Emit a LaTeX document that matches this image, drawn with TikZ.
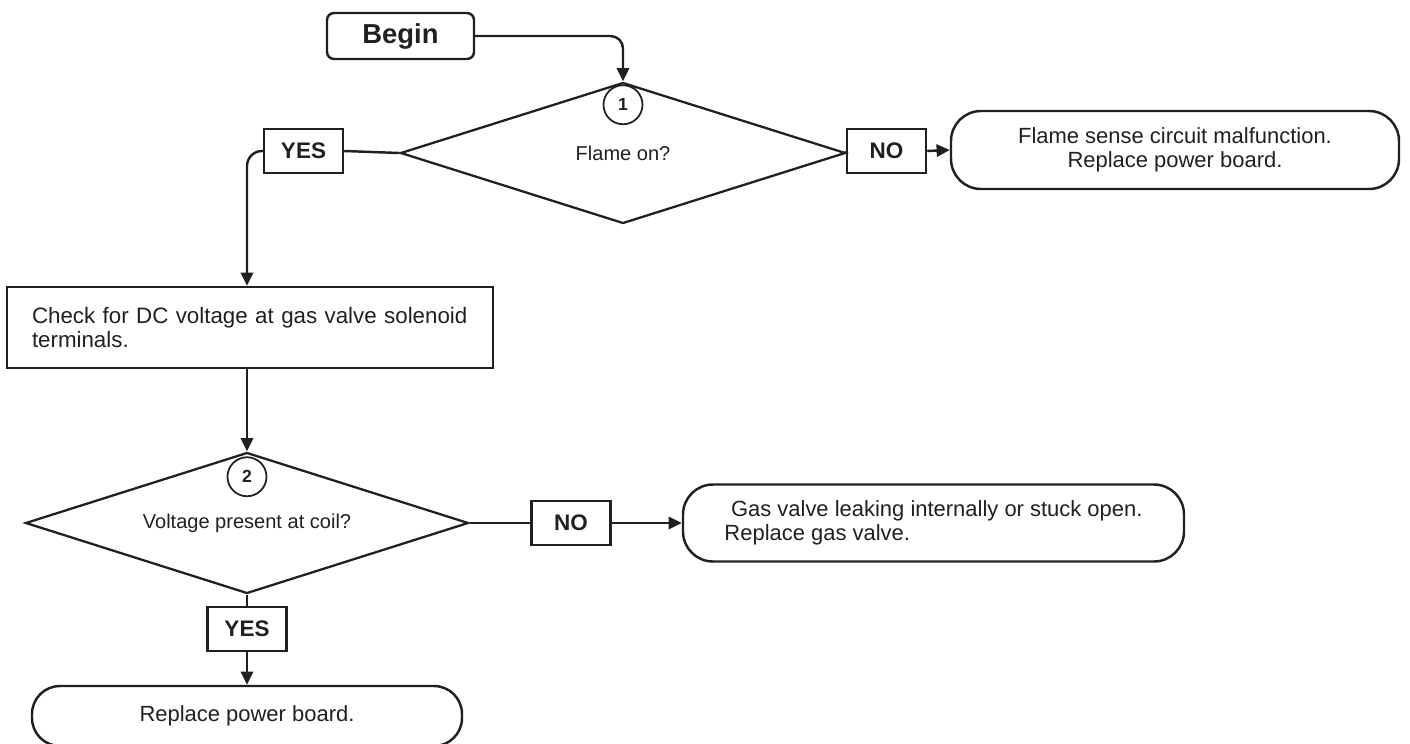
\documentclass[tikz,border=0pt]{standalone}
\usepackage{fontspec}
\setmainfont{Liberation Sans}
\usetikzlibrary{arrows.meta, positioning, shapes.geometric}
\definecolor{ink}{HTML}{231F20}
\tikzset{
  startbox/.style={rectangle, rounded corners=4pt, draw=ink, line width=1.4pt,
                   minimum width=2.94cm, minimum height=0.92cm, inner sep=0pt,
                   font=\fontsize{15.6}{18}\selectfont\bfseries, text=ink},
  tagbox/.style={rectangle, draw=ink, line width=1.4pt,
                 minimum width=1.58cm, minimum height=0.88cm, inner sep=0pt,
                 font=\fontsize{12.8}{15}\selectfont\bfseries, text=ink},
  qdiam/.style={diamond, draw=ink, line width=1.3pt, aspect=3,
                minimum width=8.9cm, minimum height=2.82cm, inner sep=0pt,
                font=\fontsize{11.4}{13}\selectfont, text=ink},
  numcirc/.style={circle, draw=ink, line width=1pt, minimum size=0.78cm, inner sep=0pt,
                  font=\fontsize{10}{12}\selectfont\bfseries, text=ink},
  endbox/.style={rectangle, rounded corners=#1, draw=ink, line width=1.4pt,
                 inner sep=0pt, font=\fontsize{12.5}{13.7}\selectfont, text=ink},
  endbox/.default=0.6cm,
  actbox/.style={rectangle, draw=ink, line width=1.4pt, align=left,
                 inner xsep=0.5cm, inner ysep=0pt,
                 font=\fontsize{12.7}{13.2}\selectfont, text=ink},
  arr/.style={-{Triangle[length=7.5pt, width=7pt]}, line width=1.4pt, draw=ink},
  link/.style={line width=1.4pt, draw=ink},
}

\begin{document}
\begin{tikzpicture}
  \useasboundingbox (0,0) rectangle (28.2,-14.86);

  % Start
  \node[startbox] (begin) at (8.01, -0.72) {Begin};

  % First question
  \node[qdiam] (flameq) at (12.46, -3.06) {Flame on?};
  \node[numcirc, below=0.06cm of flameq.north] (num1) {1};
  \node[tagbox] (yes1) at (6.07, -3.02) {YES};
  \node[tagbox] (no1) at (17.73, -3.02) {NO};
  \node[endbox, minimum width=8.96cm, minimum height=1.56cm, align=center]
    (flameend) at (23.5, -3.0) {Flame sense circuit malfunction.\\Replace power board.};

  % Check step
  \node[actbox, text width=8.72cm, minimum height=1.62cm] (check) at (5.0, -6.55)
    {Check for DC voltage at gas valve solenoid\\terminals.};

  % Second question
  \node[qdiam, minimum width=8.86cm] (voltq) at (4.94, -10.46) {Voltage present at coil?};
  \node[numcirc, below=0.1cm of voltq.north] (num2) {2};
  \node[tagbox] (no2) at (11.42, -10.46) {NO};
  \node[endbox, minimum width=10.02cm, minimum height=1.54cm, align=left]
    (gasend) at (18.67, -10.46) {\hspace*{0.3em}Gas valve leaking internally or stuck open.\\Replace gas valve.};
  \node[tagbox] (yes2) at (4.94, -12.58) {YES};
  \node[endbox=0.56cm, minimum width=8.6cm, minimum height=1.2cm, align=center]
    (boardend) at (4.94, -14.32) {Replace power board.};

  % Connectors
  \draw[arr, rounded corners=0.25cm] (begin.east) -| (flameq.north);
  \draw[link] (flameq.west) -- (yes1.east);
  \draw[arr, rounded corners=0.3cm] (yes1.west) -| (check.north -| voltq.north);
  \draw[link] (flameq.east) -- (no1.west);
  \draw[arr] (no1.east) -- (flameend.west);
  \draw[arr] (check.south -| voltq.north) -- (voltq.north);
  \draw[link] (voltq.east) -- (no2.west);
  \draw[arr] (no2.east) -- (gasend.west);
  \draw[link] (voltq.south) -- (yes2.north);
  \draw[arr] (yes2.south) -- (boardend.north);
\end{tikzpicture}
\end{document}
